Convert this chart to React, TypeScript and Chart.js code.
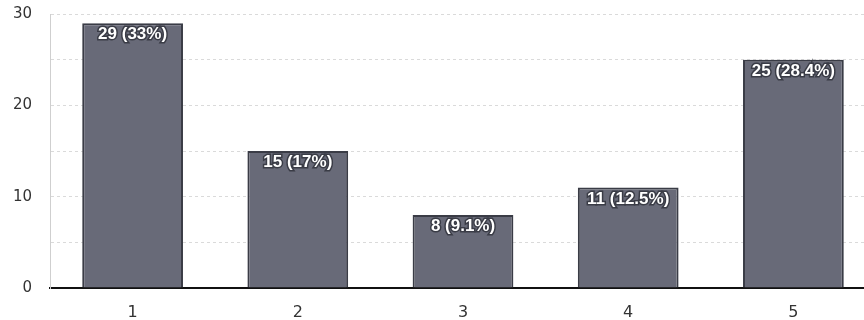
import React, { useEffect, useRef } from "react";
import { Chart, registerables } from "chart.js";

Chart.register(...registerables);

const categories = ["1", "2", "3", "4", "5"];
const counts = [29, 15, 8, 11, 25];
const percentLabels = ["33%", "17%", "9.1%", "12.5%", "28.4%"];
const yTickLabels = [0, 10, 20, 30];

const barLabelPlugin = {
  id: "barLabels",
  afterDatasetsDraw(chart: any) {
    const ctx = chart.ctx;
    const meta = chart.getDatasetMeta(0);
    ctx.save();
    ctx.font = "bold 17px 'Liberation Sans', Arial, sans-serif";
    ctx.textAlign = "center";
    ctx.textBaseline = "top";
    meta.data.forEach((bar: any, i: number) => {
      const text = `${counts[i]} (${percentLabels[i]})`;
      ctx.lineWidth = 3;
      ctx.strokeStyle = "#3a3c46";
      ctx.strokeText(text, bar.x, bar.y + 3);
      ctx.fillStyle = "#ffffff";
      ctx.fillText(text, bar.x, bar.y + 3);
    });
    ctx.restore();
  },
};

export default function App() {
  const ref = useRef<HTMLCanvasElement | null>(null);
  useEffect(() => {
    if (!ref.current) return;
    const chart = new Chart(ref.current, {
      type: "bar",
      data: {
        labels: categories,
        datasets: [
          {
            data: counts,
            backgroundColor: "#686a78",
            borderColor: "#3a3c46",
            borderWidth: 2,
            barPercentage: 0.61,
            categoryPercentage: 1,
          },
        ],
      },
      options: {
        responsive: false,
        animation: false,
        layout: { padding: { top: -10, right: 0, left: 0, bottom: 0 } },
        plugins: { legend: { display: false }, tooltip: { enabled: false } },
        scales: {
          x: {
            grid: { display: false },
            border: { color: "#111111", width: 2 },
            ticks: {
              color: "#333333",
              font: { size: 16, family: "'DejaVu Sans', sans-serif" },
              padding: 7,
            },
            afterFit(scale: any) {
              scale.height = 32;
            },
          },
          y: {
            min: 0,
            max: 30,
            grid: {
              color: "#dadada",
              drawTicks: false,
            },
            border: { color: "#cfcfcf", dash: [3, 3] },
            ticks: {
              stepSize: 5,
              padding: 18,
              color: "#333333",
              font: { size: 15, family: "'DejaVu Sans', sans-serif" },
              callback: (v: any) => (yTickLabels.includes(v) ? String(v) : ""),
            },
            afterFit(scale: any) {
              scale.width = 50;
            },
          },
        },
      },
      plugins: [barLabelPlugin],
    });
    return () => chart.destroy();
  }, []);
  return (
    <div style={{ position: "fixed", left: 0, top: -13, width: 876, height: 333, background: "#ffffff" }}>
      <canvas ref={ref} width={876} height={333} style={{ display: "block" }} />
    </div>
  );
}
